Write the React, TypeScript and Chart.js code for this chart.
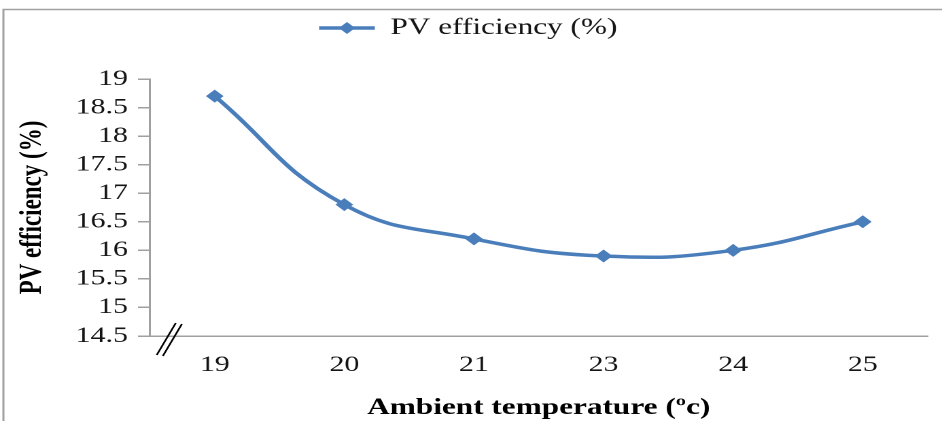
import React, { useEffect, useRef } from 'react';
import { Chart, registerables } from 'chart.js';

Chart.register(...registerables);

// ---- data ----
const categories: string[] = ['19', '20', '21', '23', '24', '25'];
const efficiency: number[] = [18.7, 16.8, 16.2, 15.9, 16.0, 16.5];
const yTickValues: number[] = [14.5, 15, 15.5, 16, 16.5, 17, 17.5, 18, 18.5, 19];
const seriesLabel = 'PV efficiency (%)';
const xTitle = 'Ambient temperature (ºc)';
const yTitle = 'PV efficiency (%)';

// ---- page geometry ----
const W = 942;
const H = 421;
const LW = 693; // logical canvas width, stretched horizontally to W
const S = W / LW;

export default function App() {
  const ref = useRef<HTMLCanvasElement>(null);

  useEffect(() => {
    const canvas = ref.current;
    if (!canvas) return;
    const blue = '#4A7EBB';
    const gray = '#A0A0A0';
    const ink = '#151515';
    const serif = "'Liberation Serif', 'Times New Roman', serif";
    const legendFont = 23;
    const legendBoxW = 41;

    const frame = {
      id: 'frame',
      beforeDraw(chart: any) {
        const c = chart.ctx;
        c.save();
        c.strokeStyle = gray;
        c.lineWidth = 1.5;
        c.beginPath();
        c.moveTo(2.5, chart.height);
        c.lineTo(2.5, 9.5);
        c.lineTo(chart.width, 9.5);
        c.stroke();
        c.restore();
      },
    };

    const legendGap = {
      id: 'legendGap',
      beforeInit(chart: any) {
        const fit = chart.legend.fit;
        chart.legend.fit = function () {
          fit.call(this);
          this.height += 29.5;
        };
      },
    };

    const extras = {
      id: 'extras',
      afterDraw(chart: any) {
        const c = chart.ctx;
        const a = chart.chartArea;
        // axis break marks
        c.save();
        c.strokeStyle = '#000';
        c.lineWidth = 1.4;
        c.beginPath();
        c.moveTo(a.left + 5, a.bottom + 19);
        c.lineTo(a.left + 19, a.bottom - 13);
        c.moveTo(a.left + 9.5, a.bottom + 20);
        c.lineTo(a.left + 23.5, a.bottom - 12);
        c.stroke();
        // legend diamond
        const hb = chart.legend && chart.legend.legendHitBoxes && chart.legend.legendHitBoxes[0];
        if (hb) {
          const cx = hb.left + legendBoxW / 2;
          const cy = hb.top + legendFont / 2;
          const r = 6;
          c.fillStyle = blue;
          c.beginPath();
          c.moveTo(cx, cy - r);
          c.lineTo(cx + r, cy);
          c.lineTo(cx, cy + r);
          c.lineTo(cx - r, cy);
          c.closePath();
          c.fill();
        }
        c.restore();
      },
    };

    const chart = new Chart(canvas, {
      type: 'line',
      data: {
        labels: categories,
        datasets: [
          {
            label: seriesLabel,
            data: efficiency,
            borderColor: blue,
            backgroundColor: blue,
            borderWidth: 3.5,
            tension: 0.45,
            pointStyle: 'rectRot',
            pointRadius: 6.5,
            pointHoverRadius: 6.5,
            pointBorderWidth: 0,
            pointBackgroundColor: blue,
            clip: false as any,
          },
        ],
      },
      options: {
        animation: false,
        responsive: true,
        maintainAspectRatio: false,
        devicePixelRatio: 2,
        layout: { padding: { top: 6.5, left: 6.5, right: 10.6, bottom: 0 } },
        plugins: {
          tooltip: { enabled: false },
          legend: {
            display: true,
            position: 'top',
            labels: {
              usePointStyle: true,
              pointStyleWidth: legendBoxW,
              padding: 10,
              color: ink,
              font: { family: serif, size: legendFont },
              generateLabels: (ch: any) => {
                const items = (Chart.defaults.plugins.legend.labels as any).generateLabels(ch);
                return items.map((it: any) => ({
                  ...it,
                  pointStyle: 'line',
                  strokeStyle: blue,
                  fillStyle: blue,
                  lineWidth: 3.5,
                }));
              },
            },
          },
        },
        scales: {
          x: {
            offset: true,
            grid: { display: true, drawOnChartArea: false, drawTicks: false },
            border: { color: gray, width: 1.5 },
            ticks: {
              color: ink,
              padding: 16,
              autoSkip: false,
              maxRotation: 0,
              font: { family: serif, size: 22 },
            },
            title: {
              display: true,
              text: xTitle,
              color: '#000',
              font: { family: serif, size: 23, weight: 'bold' },
              padding: { top: 0, bottom: -1 },
            },
            afterFit: (s: any) => {
              s.height = 85;
            },
          },
          y: {
            min: 14.5,
            max: 19,
            grid: { drawOnChartArea: false, tickLength: 8.8, color: gray, lineWidth: 1.5 },
            border: { color: gray, width: 1.5 },
            ticks: {
              color: ink,
              padding: 7.4,
              autoSkip: false,
              font: { family: serif, size: 22 },
              callback: (v: any) => String(v),
            },
            afterBuildTicks: (s: any) => {
              s.ticks = yTickValues.map((v) => ({ value: v }));
            },
            title: {
              display: true,
              text: yTitle,
              color: '#000',
              font: { family: serif, size: 23, weight: 'bold' },
              padding: { top: 4, bottom: 0 },
            },
            afterFit: (s: any) => {
              s.width = 103.8;
            },
          },
        },
      },
      plugins: [frame, legendGap, extras],
    } as any);

    return () => chart.destroy();
  }, []);

  return (
    <div
      style={{
        position: 'absolute',
        left: 0,
        top: 0,
        width: W,
        height: H,
        overflow: 'hidden',
        background: '#fff',
      }}
    >
      <div
        style={{
          width: LW,
          height: H,
          transform: `scaleX(${S})`,
          transformOrigin: '0 0',
        }}
      >
        <canvas ref={ref} />
      </div>
    </div>
  );
}
